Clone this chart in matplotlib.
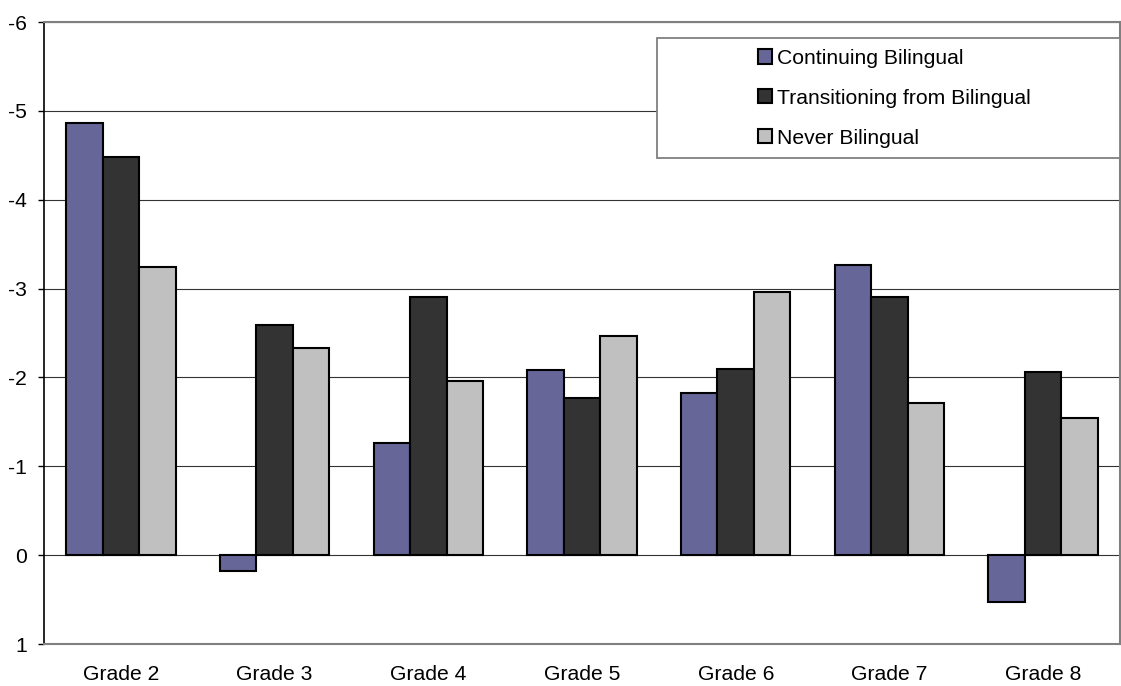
import numpy as np
import matplotlib.pyplot as plt
from matplotlib.patches import Rectangle

plt.rcParams["font.family"] = ["Liberation Sans", "DejaVu Sans"]
plt.rcParams["axes.unicode_minus"] = False

# data
grades = ["Grade 2", "Grade 3", "Grade 4", "Grade 5", "Grade 6", "Grade 7", "Grade 8"]
continuing = [-4.86, 0.18, -1.26, -2.08, -1.82, -3.27, 0.53]
transitioning = [-4.48, -2.59, -2.91, -1.77, -2.10, -2.91, -2.06]
never = [-3.24, -2.33, -1.96, -2.47, -2.96, -1.71, -1.54]

series_names = ["Continuing Bilingual", "Transitioning from Bilingual", "Never Bilingual"]
series_colors = ["#666699", "#333333", "#C0C0C0"]

fig = plt.figure(figsize=(11.21, 6.86), dpi=100)
ax = fig.add_axes([44 / 1121, 1 - 644 / 686, 1076 / 1121, 622 / 686])

x = np.arange(len(grades))
w = 0.237
for i, (vals, name, col) in enumerate(zip([continuing, transitioning, never], series_names, series_colors)):
    ax.bar(x + (i - 1) * w, vals, width=w, color=col, edgecolor="black",
           linewidth=1.5, label=name, zorder=3)

ax.set_xlim(-0.5, len(grades) - 0.5)
ax.set_ylim(1, -6)
ax.set_yticks(np.arange(-6, 2, 1))
ax.set_xticks(x)
ax.set_xticklabels(grades)

ax.yaxis.grid(True, color="#333333", linewidth=0.8, zorder=0)
ax.set_axisbelow(True)

for side in ["top", "right", "bottom"]:
    ax.spines[side].set_color("#808080")
    ax.spines[side].set_linewidth(1.5)
ax.spines["left"].set_color("black")
ax.spines["left"].set_linewidth(1.2)

ax.tick_params(axis="x", length=0, pad=15, labelsize=15.2)
ax.tick_params(axis="y", length=4.3, width=1, pad=8, labelsize=15.2, direction="out")

# legend box
ax.add_patch(Rectangle((0.5694, 0.7814), 0.4306, 0.1934, transform=ax.transAxes,
                       facecolor="white", edgecolor="#808080", linewidth=1.3,
                       zorder=4, clip_on=False))
leg = ax.legend(loc="upper left", bbox_to_anchor=(0.6633, 0.957), frameon=False,
                fontsize=15.2, handlelength=0.68, handleheight=0.68,
                handletextpad=0.25, labelspacing=0.99, borderpad=0, borderaxespad=0)
leg.set_zorder(5)

fig.savefig("out.png", dpi=100)
